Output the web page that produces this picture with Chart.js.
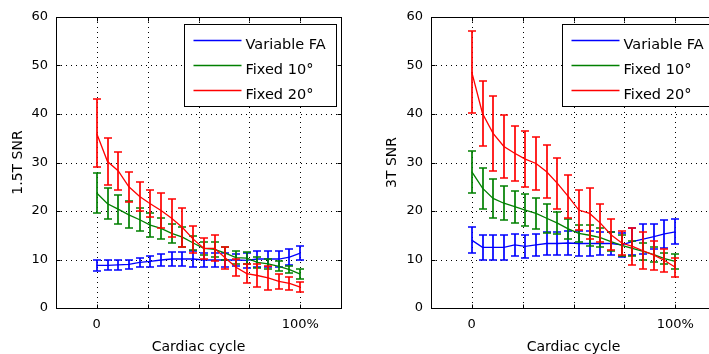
<!DOCTYPE html>
<html><head><meta charset="utf-8">
<script src="https://cdn.jsdelivr.net/npm/chart.js@4"></script>
<style>
html,body{margin:0;padding:0;background:#fff;overflow:hidden;width:709px;height:354px;position:relative;}
canvas{position:absolute;top:0;}
#c1{left:0}
#c2{left:360px}
</style></head><body>
<canvas id="c1" width="360" height="354"></canvas>
<canvas id="c2" width="360" height="354"></canvas>
<script>
// ---- data ----
const cyclePct = [0, 5.3, 10.5, 15.8, 21.1, 26.3, 31.6, 36.8, 42.1, 47.4, 52.6, 57.9, 63.2, 68.4, 73.7, 78.9, 84.2, 89.5, 94.7, 100];
const seriesNames = ['Variable FA', 'Fixed 10°', 'Fixed 20°'];
const xGridTicks = [0, 25, 50, 75, 100];
const xTickLabels = ['0', '', '', '', '100%'];
const yTicks = [0, 10, 20, 30, 40, 50, 60];

// 1.5T
const snr15Variable    = [8.8, 8.8, 8.9, 9.0, 9.4, 9.6, 9.9, 10.1, 10.1, 10.1, 9.9, 9.9, 9.9, 9.9, 9.8, 10.1, 10.1, 10.1, 10.5, 11.3];
const snr15VariableErr = [1.1, 1.0, 1.0, 1.0, 1.0, 1.1, 1.3, 1.4, 1.5, 1.6, 1.5, 1.5, 1.4, 1.3, 1.5, 1.7, 1.7, 1.7, 1.6, 1.5];
const snr15Fixed10     = [23.7, 21.5, 20.4, 19.2, 18.2, 17.1, 16.4, 15.4, 14.6, 13.4, 12.3, 12.1, 11.3, 10.4, 10.3, 9.4, 9.1, 8.6, 7.9, 7.0];
const snr15Fixed10Err  = [4.1, 3.2, 3.0, 2.8, 2.4, 2.4, 2.2, 2.0, 2.0, 1.5, 1.3, 1.6, 1.3, 1.4, 1.2, 1.2, 1.0, 1.0, 0.7, 1.0];
const snr15Fixed20     = [36.0, 30.2, 28.3, 25.0, 23.0, 21.5, 20.1, 18.5, 16.6, 14.2, 12.3, 12.3, 10.3, 8.4, 7.1, 6.7, 6.2, 5.5, 5.1, 4.3];
const snr15Fixed20Err  = [7.0, 4.9, 3.9, 3.1, 3.0, 2.8, 3.6, 3.9, 4.0, 2.8, 2.1, 2.7, 2.3, 1.8, 2.0, 2.3, 2.5, 1.6, 1.3, 1.0];

// 3T
const snr3Variable     = [14.0, 12.5, 12.5, 12.5, 13.0, 12.7, 13.0, 13.3, 13.3, 13.4, 13.3, 13.3, 13.3, 13.3, 13.0, 13.7, 14.2, 14.7, 15.3, 15.7];
const snr3VariableErr  = [2.7, 2.6, 2.6, 2.5, 2.2, 2.4, 2.3, 2.3, 2.3, 2.5, 2.6, 2.6, 2.4, 2.4, 2.4, 2.7, 3.1, 2.6, 2.9, 2.6];
const snr3Fixed10      = [28.1, 24.7, 22.6, 21.6, 20.9, 20.2, 19.5, 18.5, 17.5, 16.3, 15.4, 15.0, 14.5, 13.7, 12.9, 12.3, 11.7, 11.0, 10.2, 9.6];
const snr3Fixed10Err   = [4.3, 4.2, 4.1, 3.5, 3.3, 3.3, 3.2, 3.0, 2.3, 2.1, 1.7, 2.2, 2.0, 2.0, 2.2, 1.5, 1.7, 1.5, 1.2, 1.5];
const snr3Fixed20      = [48.7, 40.1, 36.0, 33.3, 31.9, 30.7, 29.8, 28.1, 25.7, 23.0, 20.2, 19.5, 17.5, 15.1, 13.4, 12.7, 11.8, 10.9, 9.8, 8.4];
const snr3Fixed20Err   = [8.5, 6.7, 7.8, 6.5, 5.7, 5.7, 5.5, 5.5, 5.3, 4.5, 4.2, 5.2, 3.9, 3.2, 2.5, 3.8, 3.8, 3.0, 2.3, 2.0];

// ---- styles ----
const seriesColors = ['#0000ff', '#008000', '#ff0000'];
const FONT = '"DejaVu Sans", sans-serif';

const matlabPlugin = {
  id: 'matlab',
  beforeDatasetsDraw(chart) {
    const {ctx, chartArea: a, scales: {x, y}} = chart;
    ctx.save();
    ctx.strokeStyle = '#000';
    ctx.lineWidth = 1;
    ctx.setLineDash([1, 4]);
    x.ticks.forEach(t => {
      const px = Math.round(x.getPixelForValue(t.value)) + 0.5;
      ctx.beginPath(); ctx.moveTo(px, a.top); ctx.lineTo(px, a.bottom); ctx.stroke();
    });
    y.ticks.forEach(t => {
      if (t.value <= y.min || t.value >= y.max) return;
      const py = Math.round(y.getPixelForValue(t.value)) + 0.5;
      ctx.beginPath(); ctx.moveTo(a.left, py); ctx.lineTo(a.right, py); ctx.stroke();
    });
    ctx.restore();
  },
  afterDatasetDraw(chart, args) {
    const ds = chart.data.datasets[args.index];
    if (!ds.errors) return;
    const {ctx, scales: {x, y}} = chart;
    ctx.save();
    ctx.strokeStyle = ds.borderColor;
    ctx.lineWidth = 1.7;
    ds.data.forEach((p, i) => {
      const e = ds.errors[i];
      const px = Math.round(x.getPixelForValue(p.x));
      const yt = Math.round(y.getPixelForValue(p.y + e));
      const yb = Math.round(y.getPixelForValue(p.y - e));
      ctx.beginPath();
      ctx.moveTo(px, yt); ctx.lineTo(px, yb);
      ctx.moveTo(px - 4, yt); ctx.lineTo(px + 4, yt);
      ctx.moveTo(px - 4, yb); ctx.lineTo(px + 4, yb);
      ctx.stroke();
    });
    ctx.restore();
  },
  afterDraw(chart, args, opts) {
    const {ctx, chartArea: a, scales: {x, y}} = chart;
    ctx.save();
    ctx.strokeStyle = '#000';
    ctx.lineWidth = 1;
    const L = Math.round(a.left) + 0.5, R = Math.round(a.right) + 0.5;
    const T = Math.round(a.top) + 0.5, B = Math.round(a.bottom) + 0.5;
    ctx.strokeRect(L, T, R - L, B - T);
    // inward tick marks
    ctx.beginPath();
    x.ticks.forEach(t => {
      const px = Math.round(x.getPixelForValue(t.value)) + 0.5;
      ctx.moveTo(px, B); ctx.lineTo(px, B - 4);
      ctx.moveTo(px, T); ctx.lineTo(px, T + 4);
    });
    y.ticks.forEach(t => {
      const py = Math.round(y.getPixelForValue(t.value)) + 0.5;
      ctx.moveTo(L, py); ctx.lineTo(L + 4, py);
      ctx.moveTo(R, py); ctx.lineTo(R - 4, py);
    });
    ctx.stroke();
    // legend box
    const lx = Math.round(a.left + opts.legendLeft) + 0.5;
    const ly = Math.round(a.top + 7) + 0.5;
    const lw = 152, lh = 82;
    ctx.fillStyle = '#fff';
    ctx.fillRect(lx, ly, lw, lh);
    ctx.strokeRect(lx, ly, lw, lh);
    const rows = [15, 40, 65.5];
    ctx.font = '14.5px ' + FONT;
    ctx.textBaseline = 'alphabetic';
    ctx.textAlign = 'left';
    chart.data.datasets.forEach((ds, i) => {
      const ry = Math.round(ly + rows[i]) + 0.5;
      ctx.strokeStyle = ds.borderColor;
      ctx.lineWidth = 1.3;
      ctx.beginPath(); ctx.moveTo(lx + 9, ry); ctx.lineTo(lx + 57, ry); ctx.stroke();
      ctx.fillStyle = '#000';
      ctx.fillText(ds.label, lx + 61, ry + 8);
    });
    ctx.restore();
  }
};

function makeDatasets(vals, errs) {
  const order = [2, 1, 0];
  return vals.map((v, k) => ({
    label: seriesNames[k],
    data: cyclePct.map((xv, i) => ({x: xv, y: v[i]})),
    errors: errs[k],
    borderColor: seriesColors[k],
    backgroundColor: seriesColors[k],
    borderWidth: 1.3,
    pointRadius: 0,
    tension: 0,
    fill: false,
    order: order[k]
  }));
}

function makeChart(id, yTitle, vals, errs, yWidth, titlePad, padRight, legendLeft) {
  return new Chart(document.getElementById(id), {
    type: 'line',
    data: {datasets: makeDatasets(vals, errs)},
    plugins: [matlabPlugin],
    options: {
      responsive: false,
      animation: false,
      devicePixelRatio: 1,
      layout: {padding: {left: 0, top: 17, right: padRight, bottom: 0}},
      plugins: {
        legend: {display: false},
        tooltip: {enabled: false},
        matlab: {legendLeft: legendLeft}
      },
      scales: {
        x: {
          type: 'linear', min: -20, max: 120,
          grid: {display: false, drawTicks: false},
          border: {display: false},
          afterBuildTicks: s => { s.ticks = xGridTicks.map(v => ({value: v})); },
          afterFit: s => { s.height = 46; },
          ticks: {
            autoSkip: false, maxRotation: 0, padding: 9, color: '#000',
            font: {family: FONT, size: 13},
            callback: (v) => { const k = xGridTicks.indexOf(v); return k >= 0 ? xTickLabels[k] : ''; }
          },
          title: {display: true, text: 'Cardiac cycle', color: '#000',
                  font: {family: FONT, size: 14}, padding: {top: 0, bottom: -2}}
        },
        y: {
          type: 'linear', min: 0, max: 60,
          grid: {display: false, drawTicks: false},
          border: {display: false},
          afterBuildTicks: s => { s.ticks = yTicks.map(v => ({value: v})); },
          afterFit: s => { s.width = yWidth; },
          ticks: {padding: 8, color: '#000', font: {family: FONT, size: 13}},
          title: {display: true, text: yTitle, color: '#000',
                  font: {family: FONT, size: 14}, padding: {top: titlePad, bottom: 0}}
        }
      }
    }
  });
}

makeChart('c1', '1.5T SNR',
  [snr15Variable, snr15Fixed10, snr15Fixed20],
  [snr15VariableErr, snr15Fixed10Err, snr15Fixed20Err],
  56, 10, 19, 128);
makeChart('c2', '3T SNR',
  [snr3Variable, snr3Fixed10, snr3Fixed20],
  [snr3VariableErr, snr3Fixed10Err, snr3Fixed20Err],
  71, 24, 4, 131);
</script>
</body></html>
